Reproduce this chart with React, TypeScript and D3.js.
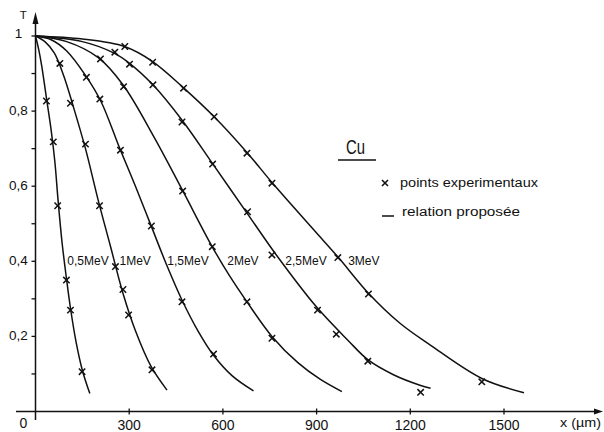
import React from "react";
import * as d3 from "d3";

// ---- data ----
const energies = ["0,5MeV", "1MeV", "1,5MeV", "2MeV", "2,5MeV", "3MeV"];

// proposed relation (curves): [x in µm, T]
const curve05 = [[0, 1], [10, 0.965], [20, 0.92], [35, 0.835], [50, 0.75], [62, 0.665], [72, 0.565], [85, 0.45], [99, 0.355], [112, 0.275], [130, 0.185], [150, 0.11], [174, 0.048]];
const curve10 = [[0, 1], [30, 0.985], [60, 0.955], [90, 0.895], [120, 0.815], [160, 0.7], [200, 0.565], [240, 0.44], [280, 0.315], [320, 0.215], [370, 0.12], [421, 0.057]];
const curve15 = [[0, 1], [50, 0.99], [100, 0.96], [160, 0.895], [210, 0.825], [270, 0.7], [320, 0.6], [370, 0.495], [420, 0.39], [470, 0.295], [520, 0.215], [570, 0.15], [630, 0.095], [698, 0.055]];
const curve20 = [[0, 1], [100, 0.985], [200, 0.943], [280, 0.87], [380, 0.73], [470, 0.59], [565, 0.44], [620, 0.363], [677, 0.292], [757, 0.2], [840, 0.13], [911, 0.086], [981, 0.053]];
const curve25 = [[0, 1], [150, 0.985], [250, 0.955], [300, 0.928], [376, 0.87], [470, 0.775], [567, 0.66], [680, 0.525], [777, 0.41], [900, 0.278], [1000, 0.19], [1064, 0.138], [1146, 0.098], [1231, 0.07], [1265, 0.062]];
const curve30 = [[0, 1], [150, 0.992], [285, 0.972], [375, 0.932], [474, 0.862], [572, 0.785], [677, 0.69], [760, 0.607], [895, 0.48], [968, 0.412], [1066, 0.315], [1167, 0.235], [1264, 0.177], [1429, 0.088], [1564, 0.05]];

// experimental points: [x in µm, T]
const pts05 = [[35, 0.827], [57, 0.718], [71, 0.548], [99, 0.35], [112, 0.27], [149, 0.106]];
const pts10 = [[78, 0.927], [112, 0.821], [160, 0.712], [205, 0.548], [256, 0.386], [280, 0.325], [298, 0.257], [373, 0.111]];
const pts15 = [[163, 0.89], [206, 0.832], [272, 0.696], [371, 0.494], [469, 0.292], [570, 0.153]];
const pts20 = [[208, 0.939], [282, 0.865], [471, 0.587], [566, 0.439], [677, 0.292], [757, 0.195]];
const pts25 = [[254, 0.957], [301, 0.925], [376, 0.87], [469, 0.771], [567, 0.659], [679, 0.532], [757, 0.417], [903, 0.27], [963, 0.206], [1064, 0.134], [1233, 0.051]];
const pts30 = [[286, 0.972], [375, 0.93], [474, 0.861], [572, 0.785], [677, 0.688], [757, 0.608], [968, 0.41], [1066, 0.313], [1429, 0.079]];

// label anchors (x µm where each energy label starts)
const labelX = [102, 269, 422, 614, 800, 1001];
const labelT = 0.39;

const xTicks = [300, 600, 900, 1200, 1500];
const xTickLabels = ["300", "600", "900", "1200", "1500"];
const yTicks = [0.2, 0.4, 0.6, 0.8, 1];
const yTickLabels = ["0,2", "0,4", "0,6", "0,8", "1"];
const yMinorTicks = [0.1, 0.3, 0.5, 0.7, 0.9];

const curves = [curve05, curve10, curve15, curve20, curve25, curve30];
const points = [pts05, pts10, pts15, pts20, pts25, pts30];

const FONT = "'Liberation Sans', Arial, sans-serif";
const INK = "#111";

export default function App() {
  const x = d3.scaleLinear().domain([0, 1500]).range([35.5, 504]);
  const y = d3.scaleLinear().domain([0, 1]).range([411.5, 36]);
  const line = d3
    .line<number[]>()
    .x((d) => x(d[0]))
    .y((d) => y(d[1]))
    .curve(d3.curveCatmullRom.alpha(0.5));

  const x0 = x(0);
  const y0 = y(0);
  const m = 3.2;

  return (
    <svg
      width={604}
      height={432}
      style={{ position: "absolute", left: 0, top: 0, background: "#fff" }}
      fontFamily={FONT}
    >
      <rect x={0} y={0} width={604} height={432} fill="#fff" />
      {/* axes */}
      <line x1={16} x2={598} y1={y0} y2={y0} stroke={INK} strokeWidth={1.5} />
      <polygon points={`603,${y0} 594,${y0 - 3} 594,${y0 + 3}`} fill={INK} />
      <line x1={x0} x2={x0} y1={420} y2={20} stroke={INK} strokeWidth={1.5} />
      <polygon points={`${x0},12 ${x0 - 3},24 ${x0 + 3},24`} fill={INK} />

      {/* x ticks */}
      {xTicks.map((t, i) => (
        <g key={"xt" + t}>
          <line x1={x(t)} x2={x(t)} y1={y0 - 3} y2={y0 + 3} stroke={INK} strokeWidth={1.3} />
          <text x={x(t)} y={430} fontSize={14} textAnchor="middle" fill={INK}>
            {xTickLabels[i]}
          </text>
        </g>
      ))}
      <text x={23.5} y={428} fontSize={14} textAnchor="middle" fill={INK}>0</text>
      <text x={560} y={427} fontSize={13} fill={INK} textLength={41} lengthAdjust="spacingAndGlyphs">
        x (µm)
      </text>

      {/* y ticks */}
      {yTicks.map((t, i) => (
        <g key={"yt" + t}>
          <line x1={x0 - 4} x2={x0 + (t === 1 ? 2 : 0)} y1={y(t)} y2={y(t)} stroke={INK} strokeWidth={1.3} />
          <text x={18.5} y={y(t) - (t === 1 ? 3 : 1)} dy="0.35em" fontSize={13.5} textAnchor="middle" fill={INK}>
            {yTickLabels[i]}
          </text>
        </g>
      ))}
      {yMinorTicks.map((t) => (
        <line key={"ym" + t} x1={x0 - 4} x2={x0} y1={y(t)} y2={y(t)} stroke={INK} strokeWidth={1.3} />
      ))}
      <text x={23.3} y={18.5} fontSize={11.5} textAnchor="middle" fill={INK}>T</text>

      {/* curves */}
      {curves.map((c, i) => (
        <path key={"c" + i} d={line(c) || ""} fill="none" stroke={INK} strokeWidth={1.5} />
      ))}

      {/* experimental points */}
      {points.map((ps, i) =>
        ps.map((p, j) => {
          const cx = x(p[0]);
          const cy = y(p[1]);
          return (
            <path
              key={`p${i}-${j}`}
              d={`M${cx - m},${cy - m}L${cx + m},${cy + m}M${cx - m},${cy + m}L${cx + m},${cy - m}`}
              stroke={INK}
              strokeWidth={1.5}
            />
          );
        })
      )}

      {/* energy labels */}
      {energies.map((e, i) => (
        <text key={"l" + e} x={x(labelX[i])} y={y(labelT)} fontSize={12} fill={INK}>
          {e}
        </text>
      ))}

      {/* legend */}
      <text x={346} y={154} fontSize={20} fill={INK} textLength={19} lengthAdjust="spacingAndGlyphs">Cu</text>
      <line x1={338} x2={376} y1={160} y2={160} stroke={INK} strokeWidth={1.5} />
      <path d={`M382,180L388,186M382,186L388,180`} stroke={INK} strokeWidth={1.6} />
      <text x={400} y={187} fontSize={12.5} fill={INK} textLength={138} lengthAdjust="spacingAndGlyphs">
        points experimentaux
      </text>
      <line x1={382} x2={394} y1={216} y2={216} stroke={INK} strokeWidth={1.5} />
      <text x={402} y={216} fontSize={12.5} fill={INK} textLength={118} lengthAdjust="spacingAndGlyphs">
        relation proposée
      </text>
    </svg>
  );
}
